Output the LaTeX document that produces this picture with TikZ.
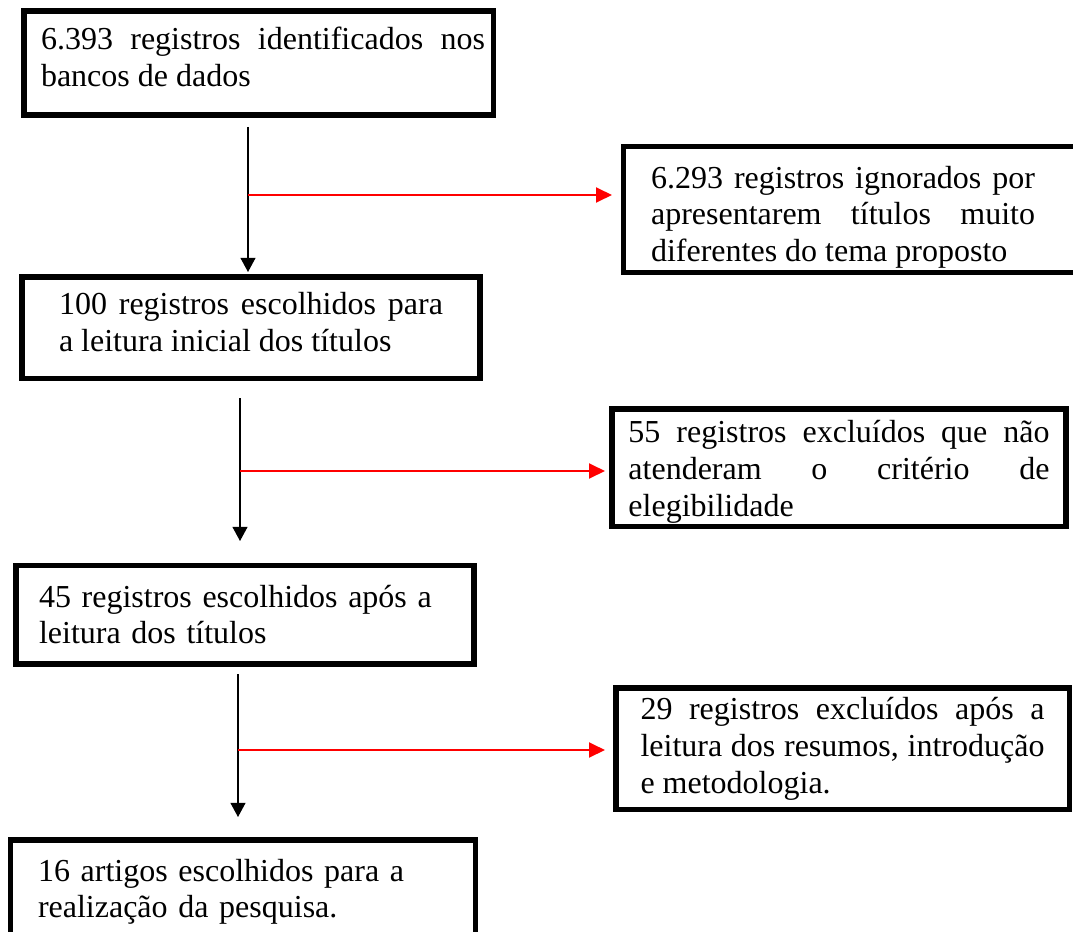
\documentclass[tikz,border=0pt]{standalone}
\usepackage{fontspec}
\setmainfont{Liberation Serif}
\usetikzlibrary{arrows.meta}
\hyphenpenalty=10000
\exhyphenpenalty=10000
\tolerance=10000
\hbadness=10000

\begin{document}
\begin{tikzpicture}[x=0.375pt,y=-0.375pt,
	box/.style={draw,line width=1.9pt,inner sep=0pt,align=justify,text height=0pt,
		font=\fontsize{12}{13.7}\selectfont},
	flow/.style={line width=0.5pt,-{Triangle[width=5.6pt,length=5.3pt]}},
	excl/.style={red,line width=0.8pt,-{Triangle[width=5.6pt,length=6pt]}}]
\useasboundingbox (0,0) rectangle (1073,931);
% caixas principais
\node[box,minimum width=175.9pt,minimum height=39pt,text width=169.9pt,text depth=9.75pt,
	execute at begin node={\leftskip=3.4pt\relax}] (b1) at (258.5,63)
	{6.393 registros identificados nos\linebreak bancos de dados};
\node[box,minimum width=171.75pt,minimum height=37.9pt,text width=144pt,text depth=9.4pt] (b2) at (251,327.5)
	{100 registros escolhidos para\linebreak a leitura inicial dos títulos};
\node[box,align=left,minimum width=171.75pt,minimum height=37.1pt,text width=154.5pt,text depth=5.6pt] (b3) at (245,614.5)
	{45 registros escolhidos após a\\ leitura dos títulos};
\node[box,align=left,minimum width=174.4pt,minimum height=36.4pt,text width=153.75pt,text depth=5.6pt] (b4) at (243,888.5)
	{16 artigos escolhidos para a\\ realização da pesquisa.};
% caixas de exclusao
\node[box,minimum width=175.1pt,minimum height=46.9pt,text width=154.1pt,text depth=16.1pt,
	execute at begin node={\rightskip=10.1pt\relax}] (r1) at (856.5,209.5)
	{6.293 registros ignorados por\linebreak apresentarem títulos muito\linebreak diferentes do tema proposto};
\node[box,minimum width=170.25pt,minimum height=43.9pt,text width=157.9pt,text depth=18.4pt] (r2) at (839,467.5)
	{55 registros excluídos que não\linebreak atenderam o critério de\linebreak elegibilidade};
\node[box,minimum width=169.9pt,minimum height=45.4pt,text width=151.5pt,text depth=21.4pt] (r3) at (842.5,748.5)
	{29 registros excluídos após a\linebreak leitura dos resumos, introdução\linebreak e metodologia.};
% setas
\coordinate (s1) at (248,127);
\coordinate (e1) at (248,272);
\coordinate (j1) at (248,195);
\coordinate (k1) at (612,195);
\coordinate (s2) at (240,398);
\coordinate (e2) at (240,541);
\coordinate (j2) at (240,471);
\coordinate (k2) at (605,471);
\coordinate (s3) at (238,674);
\coordinate (e3) at (238,817);
\coordinate (j3) at (238,750);
\coordinate (k3) at (605,750);
\draw[flow] (s1) -- (e1);
\draw[flow] (s2) -- (e2);
\draw[flow] (s3) -- (e3);
\draw[excl] (j1) -- (k1);
\draw[excl] (j2) -- (k2);
\draw[excl] (j3) -- (k3);
\end{tikzpicture}
\end{document}
